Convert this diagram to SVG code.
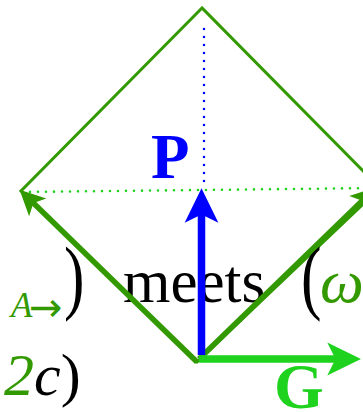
<svg xmlns="http://www.w3.org/2000/svg" width="363" height="412" viewBox="0 0 363 412">
<style>
text{font-family:"Liberation Serif","DejaVu Serif",serif}
.dk{fill:#339900}
.br{fill:#1ed21e}
.it{font-style:italic}
.bd{font-weight:bold}
.edge{fill:none;stroke:#339900;stroke-width:3}
.dot{fill:none;stroke-width:2.6;stroke-linecap:round;stroke-dasharray:0 8}
</style>
<defs>
<marker id="hd" markerUnits="strokeWidth" refX="1.3" refY="0" orient="auto" overflow="visible">
<path d="M4.6,0 L0,-2.25 L1.1,0 L0,2.25 Z" fill="#339900"/>
</marker>
<marker id="hb" markerUnits="strokeWidth" refX="1.3" refY="0" orient="auto" overflow="visible">
<path d="M4.6,0 L0,-2.25 L1.1,0 L0,2.25 Z" fill="#0000ff"/>
</marker>
<marker id="hg" markerUnits="strokeWidth" refX="1.3" refY="0" orient="auto" overflow="visible">
<path d="M4.5,0 L0,-2.2 L1.1,0 L0,2.2 Z" fill="#1ed21e"/>
</marker>
</defs>
<g id="diamond">
<polygon class="edge" points="202,8 21,191 197,362 380,188"/>
</g>
<g id="labels">
<text x="-42" y="302" font-size="62" class="dk it">ω</text>
<text x="11" y="317" font-size="35" class="dk it">A</text>
<text x="29" y="321" font-size="40" class="dk" style="font-family:'DejaVu Sans',sans-serif">→</text>
<text transform="translate(64,304) scale(0.75,1)" font-size="82">)</text>
<text x="123" y="302" font-size="61">meets</text>
<text transform="translate(301,304) scale(0.75,1)" font-size="82">(</text>
<text x="320" y="302" font-size="62" class="dk it">ω</text>
<text x="4" y="395" font-size="60"><tspan class="dk it">2</tspan><tspan class="it">c</tspan><tspan>)</tspan></text>
</g>
<g id="connectors">
<line class="dot" x1="22" y1="192" x2="380" y2="188" stroke="#1ed21e"/>
<line class="dot" x1="204" y1="29" x2="204" y2="187" stroke="#0000ff"/>
<line x1="197" y1="362" x2="32.6" y2="202.3" stroke="#339900" stroke-width="5.5" marker-end="url(#hd)"/>
<line x1="199" y1="359" x2="363" y2="200" stroke="#339900" stroke-width="5.5" marker-end="url(#hd)"/>
<line x1="201.5" y1="355" x2="201.5" y2="213" stroke="#0000ff" stroke-width="7.5" marker-end="url(#hb)"/>
<line x1="199" y1="359" x2="337" y2="359" stroke="#1ed21e" stroke-width="7.5" marker-end="url(#hg)"/>
</g>
<g id="P"><text x="151" y="178" font-size="63" class="bd" fill="#0000ff">P</text></g>
<g id="G"><text x="274" y="408" font-size="64" class="bd br">G</text></g>
</svg>
